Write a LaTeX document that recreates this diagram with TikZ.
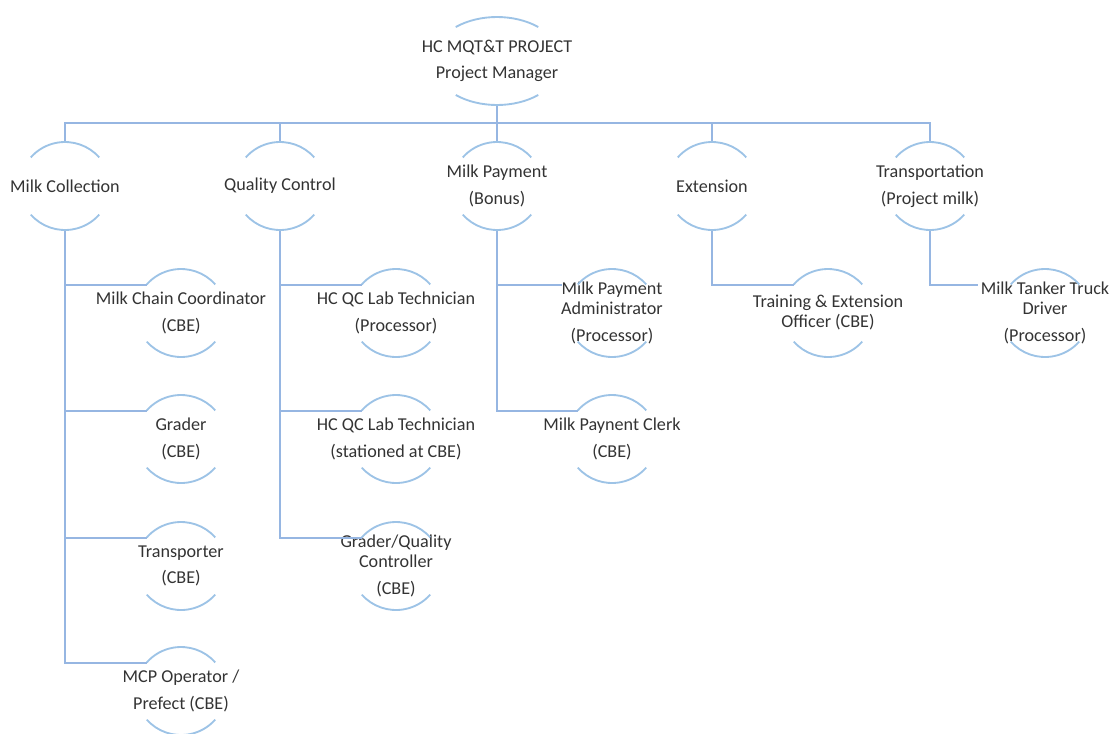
\documentclass[tikz,border=0pt]{standalone}
\usepackage{fontspec}
\setmainfont{Carlito}
\definecolor{ringblue}{RGB}{157,195,230}
\definecolor{linkblue}{RGB}{150,182,226}
\definecolor{inkgray}{gray}{0.2}

\begin{document}
\begin{tikzpicture}[x=0.75pt,y=0.75pt,
    role/.style={inner sep=0pt,minimum height=66pt,align=center,
                 text=inkgray,font=\fontsize{13.6}{15}\selectfont},
    ring/.style={draw=ringblue,line width=1.4pt},
    link/.style={draw=linkblue,line width=1.7pt}]
    \useasboundingbox (0,0) rectangle (1110,-733);

    % manager
    \node[role] (pm) at (497,-61) {HC MQT\&T PROJECT\\[5pt]Project Manager};

    % departments
    \node[role] (mc) at (65,-186) {Milk Collection};
    \node[role] (qc) at (280,-186) {Quality Control};
    \node[role] (mp) at (497,-186) {Milk Payment\\[5pt](Bonus)};
    \node[role] (ext) at (712,-186) {Extension};
    \node[role] (tr) at (930,-186) {Transportation\\[5pt](Project milk)};

    % staff
    \node[role] (mcc) at (181,-313) {Milk Chain Coordinator\\[5pt](CBE)};
    \node[role] (grd) at (181,-439) {Grader\\[5pt](CBE)};
    \node[role] (trn) at (181,-566) {Transporter\\[5pt](CBE)};
    \node[role] (mcp) at (181,-691) {MCP Operator /\\[5pt]Prefect (CBE)};
    \node[role] (lab) at (396,-313) {HC QC Lab Technician\\[5pt](Processor)};
    \node[role] (labc) at (396,-439) {HC QC Lab Technician\\[5pt](stationed at CBE)};
    \node[role] (gqc) at (396,-566) {Grader/Quality\\Controller\\[5pt](CBE)};
    \node[role] (mpa) at (612,-313) {Milk Payment\\Administrator\\[5pt](Processor)};
    \node[role] (mpc) at (612,-439) {Milk Paynent Clerk\\[5pt](CBE)};
    \node[role] (teo) at (828,-313) {Training \& Extension\\Officer (CBE)};
    \node[role] (mtd) at (1045,-313) {Milk Tanker Truck\\Driver\\[5pt](Processor)};

    % reporting lines
    \foreach \d in {mc,qc,mp,ext,tr}
        \draw[link] (pm.south) -- ++(0,-18) -| (\d.north);
    \foreach \c in {mcc,grd,trn,mcp}
        \draw[link] (mc.south) |- ([shift={(-34,28)}]\c.center);
    \foreach \c in {lab,labc,gqc}
        \draw[link] (qc.south) |- ([shift={(-34,28)}]\c.center);
    \draw[link] (mp.south) |- ([shift={(-50,28)}]mpa.center);
    \draw[link] (mp.south) |- ([shift={(-34,28)}]mpc.center);
    \draw[link] (ext.south) |- ([shift={(-34,28)}]teo.center);
    \draw[link] (tr.south) |- ([shift={(-67,28)}]mtd.center);

    % open rings
    \draw[ring] (pm.center) ++(50.6:65 and 44) arc[start angle=50.6,end angle=129.4,x radius=65,y radius=44]
                (pm.center) ++(230.6:65 and 44) arc[start angle=230.6,end angle=309.4,x radius=65,y radius=44];
    \foreach \n in {mc,qc,mp,ext,tr,mcc,grd,trn,mcp,lab,labc,gqc,mpa,mpc,teo,mtd}
        \draw[ring] (\n.center) ++(40.6:45 and 44) arc[start angle=40.6,end angle=139.4,x radius=45,y radius=44]
                    (\n.center) ++(220.6:45 and 44) arc[start angle=220.6,end angle=319.4,x radius=45,y radius=44];
\end{tikzpicture}
\end{document}
